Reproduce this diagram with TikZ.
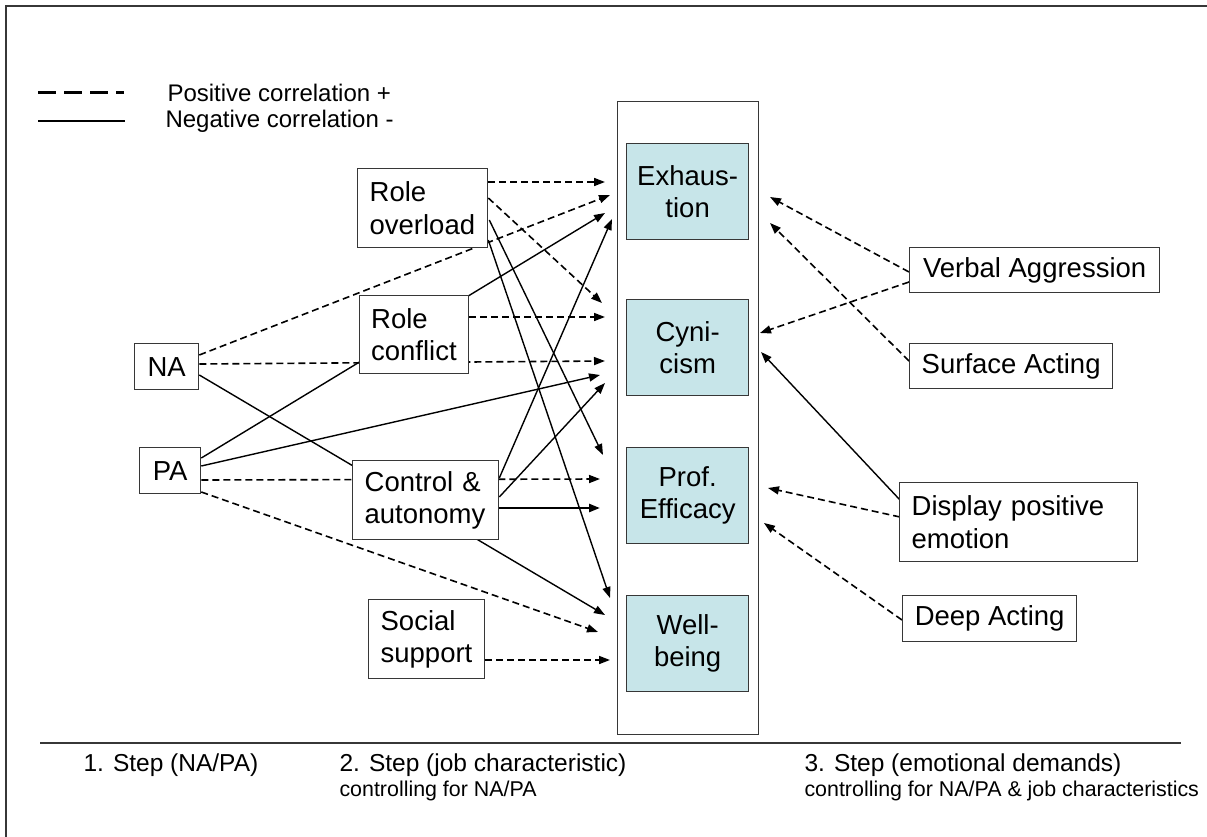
\documentclass[tikz,border=0pt]{standalone}
\usepackage{fontspec}
\setmainfont{Liberation Sans}
\usetikzlibrary{arrows.meta,calc,backgrounds}
\definecolor{panel}{RGB}{199,229,233}
\definecolor{edge}{RGB}{55,55,55}
\begin{document}
\begin{tikzpicture}[x=1pt,y=-1pt,
  every node/.style={font=\fontsize{27.5}{32.3}\selectfont},
  jobbox/.style={draw=edge, line width=1.3pt, fill=white, inner sep=0pt, anchor=north west, align=left},
  centbox/.style={draw=edge, line width=1.3pt, fill=white, inner sep=0pt, anchor=north west, align=center},
  burnbox/.style={draw=edge, line width=1.3pt, fill=panel, inner sep=0pt, anchor=north west,
    align=center, minimum width=122pt, minimum height=96pt},
  posarrow/.style={line width=1.6pt, dash pattern=on 7pt off 4pt, -{Triangle[length=11pt,width=8pt]}},
  negarrow/.style={line width=1.4pt, -{Triangle[length=11pt,width=8pt]}},
  legtext/.style={anchor=west, font=\fontsize{24}{28}\selectfont},
  steptext/.style={anchor=west, font=\fontsize{24.5}{29}\selectfont},
  subtext/.style={anchor=west, font=\fontsize{21.4}{25}\selectfont},
]
\useasboundingbox (0,0) rectangle (1207,837);

% frame
\draw[edge, line width=1.6pt] (6,837) -- (6,6) -- (1207,6);

% legend
\draw[line width=3pt, dash pattern=on 18pt off 8pt] (38,93) -- (124,93);
\draw[line width=2.8pt] (38,121) -- (125,121);
\node[legtext] (legpos) at (164,93) {Positive correlation +};
\node[legtext] (legneg) at (162,121) {Negative correlation -};

% outcome stack
\node[draw=edge, line width=1.3pt, anchor=north west, inner sep=0pt,
  minimum width=141pt, minimum height=633pt] (stack) at (617,101) {};
\node[burnbox] (exh) at (626,143) {Exhaus-\\tion};
\node[burnbox] (cyn) at (626,299) {Cyni-\\cism};
\node[burnbox] (eff) at (626,447) {Prof.\\Efficacy};
\node[burnbox] (wel) at (626,595) {Well-\\being};

% step 1
\node[centbox, minimum width=64pt, minimum height=46pt] (na) at (134,343) {NA};
\node[centbox, minimum width=61pt, minimum height=46pt] (pa) at (139,447) {PA};

% step 2
\node[jobbox, minimum width=130pt, minimum height=79pt, text width=106pt] (ro) at (357,168) {Role\\overload};
\node[jobbox, minimum width=109pt, minimum height=78pt, text width=86pt] (rc) at (359,295) {Role\\conflict};
\node[jobbox, minimum width=146pt, minimum height=79pt, text width=122pt] (ca) at (352,460) {Control \&\\autonomy};
\node[jobbox, minimum width=116pt, minimum height=79pt, text width=92pt] (ss) at (368,599) {Social\\support};

% step 3
\node[centbox, minimum width=250pt, minimum height=45pt] (va) at (909,247) {Verbal Aggression};
\node[centbox, minimum width=203pt, minimum height=45pt] (sa) at (909,343) {Surface Acting};
\node[jobbox, minimum width=238pt, minimum height=79pt, text width=214pt] (dp) at (899,482) {Display positive\\emotion};
\node[centbox, minimum width=174pt, minimum height=46pt] (da) at (902,595) {Deep Acting};

% arrow targets
\coordinate (e1) at (605,182);
\coordinate (e2) at (610,195);
\coordinate (e3) at (605,213);
\coordinate (e4) at (612,219);
\coordinate (c1) at (602,303);
\coordinate (c2) at (605,317);
\coordinate (c3) at (605,361);
\coordinate (c4) at (600,375);
\coordinate (c5) at (605,383);
\coordinate (p1) at (603,455);
\coordinate (p2) at (600,479);
\coordinate (p3) at (600,508);
\coordinate (w1) at (610,598);
\coordinate (w2) at (605,615);
\coordinate (w3) at (598,632);
\coordinate (w4) at (610,660);
\coordinate (r1) at (770,197);
\coordinate (r2) at (770,223);
\coordinate (r3) at (760,333);
\coordinate (r4) at (761,352);
\coordinate (r5) at (768,488);
\coordinate (r6) at (764,523);

\begin{pgfonlayer}{background}
% exhaustion
\draw[posarrow] ($(ro.north east)+(0,14)$) -- (e1);
\draw[posarrow] ($(na.north east)+(0,12)$) -- (e2);
\draw[negarrow] ($(pa.north east)+(0,11)$) -- (e3);
\draw[negarrow] ($(ca.north east)+(0,18)$) -- (e4);
% cynicism
\draw[posarrow] ($(ro.north east)+(0,30)$) -- (c1);
\draw[posarrow] ($(rc.north east)+(0,22)$) -- (c2);
\draw[posarrow] ($(na.north east)+(0,21)$) -- (c3);
\draw[negarrow] ($(pa.north east)+(0,19)$) -- (c4);
\draw[negarrow] ($(ca.north east)+(0,37)$) -- (c5);
% professional efficacy
\draw[negarrow] ($(ro.north east)+(1,52)$) -- (p1);
\draw[posarrow] ($(pa.north east)+(0,33)$) -- (p2);
\draw[negarrow, line width=2.4pt] ($(ca.north east)+(0,48)$) -- (p3);
% well-being
\draw[negarrow] ($(ro.north east)+(0,72)$) -- (w1);
\draw[negarrow] ($(na.north east)+(0,32)$) -- (w2);
\draw[posarrow] ($(pa.north east)+(0,45)$) -- (w3);
\draw[posarrow] ($(ss.north east)+(0,61)$) -- (w4);
% emotional demands
\draw[posarrow] ($(va.north west)+(0,25)$) -- (r1);
\draw[posarrow] ($(sa.north west)+(0,18)$) -- (r2);
\draw[posarrow] ($(va.north west)+(0,35)$) -- (r3);
\draw[negarrow] ($(dp.north west)+(1,18)$) -- (r4);
\draw[posarrow] ($(dp.north west)+(1,35)$) -- (r5);
\draw[posarrow] ($(da.north west)+(0,25)$) -- (r6);
\end{pgfonlayer}

% steps
\draw[edge, line width=1.3pt] (40,743) -- (1181,743);
\node[steptext] (s1) at (80,765) {1. Step (NA/PA)};
\node[steptext] (s2) at (336,765) {2. Step (job characteristic)};
\node[subtext] (s2b) at (336,791) {controlling for NA/PA};
\node[steptext] (s3) at (801,765) {3. Step (emotional demands)};
\node[subtext] (s3b) at (801,791) {controlling for NA/PA \& job characteristics};
\end{tikzpicture}
\end{document}
